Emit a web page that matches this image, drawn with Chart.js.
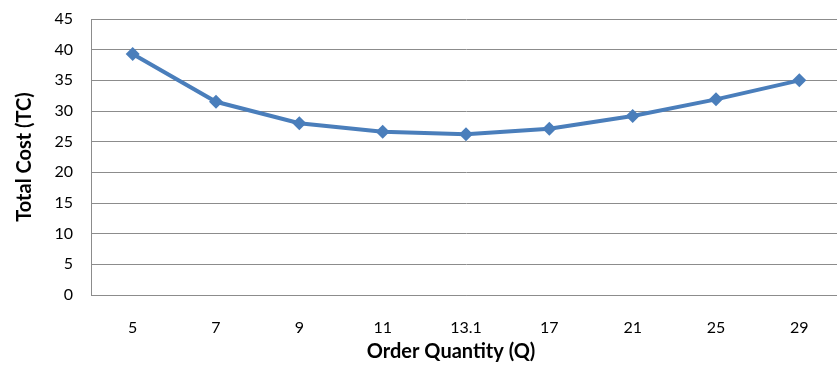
<!DOCTYPE html>
<html>
<head>
<meta charset="utf-8">
<script src="https://cdn.jsdelivr.net/npm/chart.js@4"></script>
<style>
  html, body { margin: 0; padding: 0; background: #fff; overflow: hidden; }
  #wrap { width: 848px; height: 365px; }
</style>
</head>
<body>
<div id="wrap"><canvas id="c" width="848" height="365"></canvas></div>
<script>
// Order quantity (Q) categories and the total cost at each
const quantities = ['5', '7', '9', '11', '13.1', '17', '21', '25', '29'];
const totalCost = [39.3, 31.5, 28.0, 26.6, 26.2, 27.1, 29.2, 31.9, 35.0];
const yTicks = [0, 5, 10, 15, 20, 25, 30, 35, 40, 45];
const xTitle = 'Order Quantity (Q)';
const yTitle = 'Total Cost (TC)';

const lineBlue = '#4a7ebb';
const gridGrey = '#8c8c8c';
const fontFamily = "Lato, 'Open Sans', sans-serif";

// Horizontal axis title, centred a little left of the plot centre
const xTitlePlugin = {
  id: 'xTitle',
  afterDraw(chart) {
    const { ctx, chartArea } = chart;
    ctx.save();
    ctx.font = `bold 20px ${fontFamily}`;
    ctx.fillStyle = '#000';
    ctx.textAlign = 'center';
    ctx.textBaseline = 'middle';
    ctx.fillText(xTitle, (chartArea.left + chartArea.right) / 2 - 15, 352);
    ctx.restore();
  }
};

new Chart(document.getElementById('c'), {
  type: 'line',
  data: {
    labels: quantities,
    datasets: [{
      data: totalCost,
      borderColor: lineBlue,
      backgroundColor: lineBlue,
      borderWidth: 4,
      pointStyle: 'rectRot',
      pointRadius: 7,
      pointHoverRadius: 7,
      pointBorderWidth: 0,
      tension: 0
    }]
  },
  plugins: [xTitlePlugin],
  options: {
    responsive: false,
    animation: false,
    devicePixelRatio: 1,
    layout: { padding: { top: 19, left: 0, right: 0, bottom: 0 } },
    plugins: { legend: { display: false }, tooltip: { enabled: false } },
    scales: {
      x: {
        offset: true,
        grid: { display: false, drawTicks: false },
        border: { display: true, color: gridGrey, width: 1 },
        ticks: { color: '#000', padding: 23, font: { family: fontFamily, size: 16 } },
        title: { display: false },
        afterFit: s => { s.height = 70; s.paddingLeft = 0; s.paddingRight = 0; }
      },
      y: {
        min: 0,
        max: 45,
        afterBuildTicks: s => { s.ticks = yTicks.map(v => ({ value: v })); },
        grid: { color: gridGrey, lineWidth: 1, drawTicks: false },
        border: { display: true, color: gridGrey, width: 1 },
        ticks: { color: '#000', padding: 18, font: { family: fontFamily, size: 16 } },
        title: {
          display: true,
          text: yTitle,
          color: '#000',
          padding: { top: 13, bottom: 4 },
          font: { family: fontFamily, size: 20, weight: 'bold' }
        },
        afterFit: s => { s.width = 91; s.paddingTop = 0; s.paddingBottom = 0; }
      }
    }
  }
});
</script>
</body>
</html>
